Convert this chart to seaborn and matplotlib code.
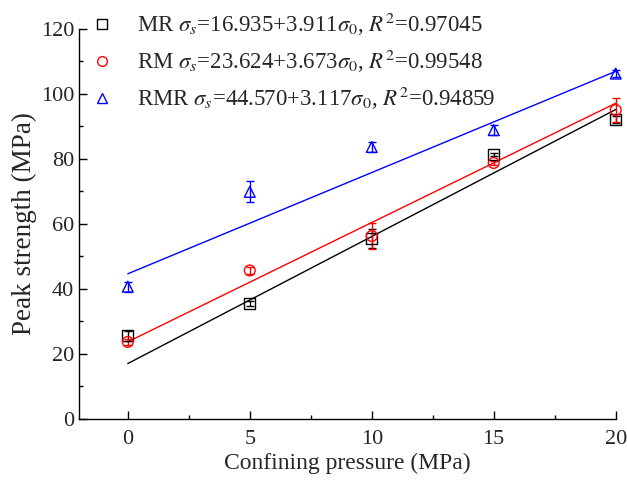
import numpy as np
import pandas as pd
import matplotlib
matplotlib.use("Agg")
import matplotlib.pyplot as plt
import seaborn as sns
from matplotlib.lines import Line2D

sns.set_theme(style="ticks")
plt.rcParams["font.family"] = ["Liberation Serif", "DejaVu Serif"]
plt.rcParams["mathtext.fontset"] = "stix"

# Confining pressure (MPa)
pressure = [0, 5, 10, 15, 20]

# Peak strength means and error half-widths (MPa)
mr_mean = [25.5, 35.4, 55.4, 81.3, 92.0]
mr_err = [1.5, 0.8, 3.0, 0.6, 1.0]
rm_mean = [23.6, 45.6, 56.2, 78.7, 95.0]
rm_err = [1.0, 1.0, 4.0, 0.6, 3.6]
rmr_mean = [40.6, 69.8, 83.6, 88.8, 106.2]
rmr_err = [1.5, 3.2, 1.5, 1.5, 1.0]

# Linear fit coefficients (intercept, slope) and R^2
groups = ["MR", "RM", "RMR"]
intercepts = [16.935, 23.624, 44.570]
slopes = [3.911, 3.673, 3.117]
r2_text = ["0.97045", "0.99548", "0.94859"]
colors = ["black", "red", "blue"]
markers = ["s", "o", "^"]

means = [mr_mean, rm_mean, rmr_mean]
errs = [mr_err, rm_err, rmr_err]

fig = plt.figure(figsize=(6.27, 4.80), dpi=100)
ax = fig.add_axes([0.126, 0.128, 0.856, 0.812])

rows = []
for g, m, e in zip(groups, means, errs):
    for p, v, s in zip(pressure, m, e):
        rows.append({"group": g, "pressure": p, "strength": v, "err": s})
df = pd.DataFrame(rows)

fit_rows = []
for g, a, b in zip(groups, intercepts, slopes):
    for p in (pressure[0], pressure[-1]):
        fit_rows.append({"group": g, "pressure": p, "fit": a + b * p})
fit_df = pd.DataFrame(fit_rows)

palette = dict(zip(groups, colors))
sns.lineplot(data=fit_df, x="pressure", y="fit", hue="group", palette=palette,
             lw=1.0, legend=False, ax=ax, zorder=2)

for g, c, mk in zip(groups, colors, markers):
    sub = df[df["group"] == g]
    eb = ax.errorbar(sub["pressure"], sub["strength"], yerr=sub["err"], fmt="none",
                     ecolor=c, elinewidth=1.0, capsize=3, capthick=1.0, zorder=3)
    for artist in eb.lines[1] + eb.lines[2]:
        artist.set_clip_on(False)
    sns.scatterplot(data=sub, x="pressure", y="strength", marker=mk, s=60,
                    facecolor="none", edgecolor=c, linewidth=1.0, ax=ax,
                    zorder=4, legend=False, clip_on=False)

ax.set_xlim(-2, 20)
ax.set_ylim(0, 120)
ax.set_xticks([0, 5, 10, 15, 20])
ax.set_xticks([2.5, 7.5, 12.5, 17.5], minor=True)
ax.set_yticks([0, 20, 40, 60, 80, 100, 120])
ax.set_yticks([10, 30, 50, 70, 90, 110], minor=True)
ax.tick_params(which="both", direction="in", labelsize=16, width=1.0, color="black")
ax.tick_params(which="major", length=6)
ax.tick_params(which="minor", length=3)
ax.tick_params(axis="x", pad=8)
sns.despine(ax=ax)
for sp in ("left", "bottom"):
    ax.spines[sp].set_linewidth(1.0)
    ax.spines[sp].set_color("black")

ax.set_xlabel("Confining pressure (MPa)", fontsize=17, labelpad=3)
ax.set_ylabel("Peak strength (MPa)", fontsize=19.5, labelpad=3)

handles = []
for g, c, mk, a, b, r2 in zip(groups, colors, markers, intercepts, slopes, r2_text):
    label = (g + r" $\sigma_s$=" + f"{a:.3f}+{b:.3f}" + r"$\sigma_0$, $R^2$=" + r2)
    handles.append(Line2D([], [], ls="none", marker=mk, markersize=7,
                          markerfacecolor="none", markeredgecolor=c,
                          markeredgewidth=1.0, label=label))
ax.legend(handles=handles, loc="upper left", bbox_to_anchor=(0.005, 1.07),
          frameon=False, fontsize=16.5, handlelength=1.0, handletextpad=1.0,
          labelspacing=0.42, borderaxespad=0.0)

fig.savefig("out.png", dpi=100)
